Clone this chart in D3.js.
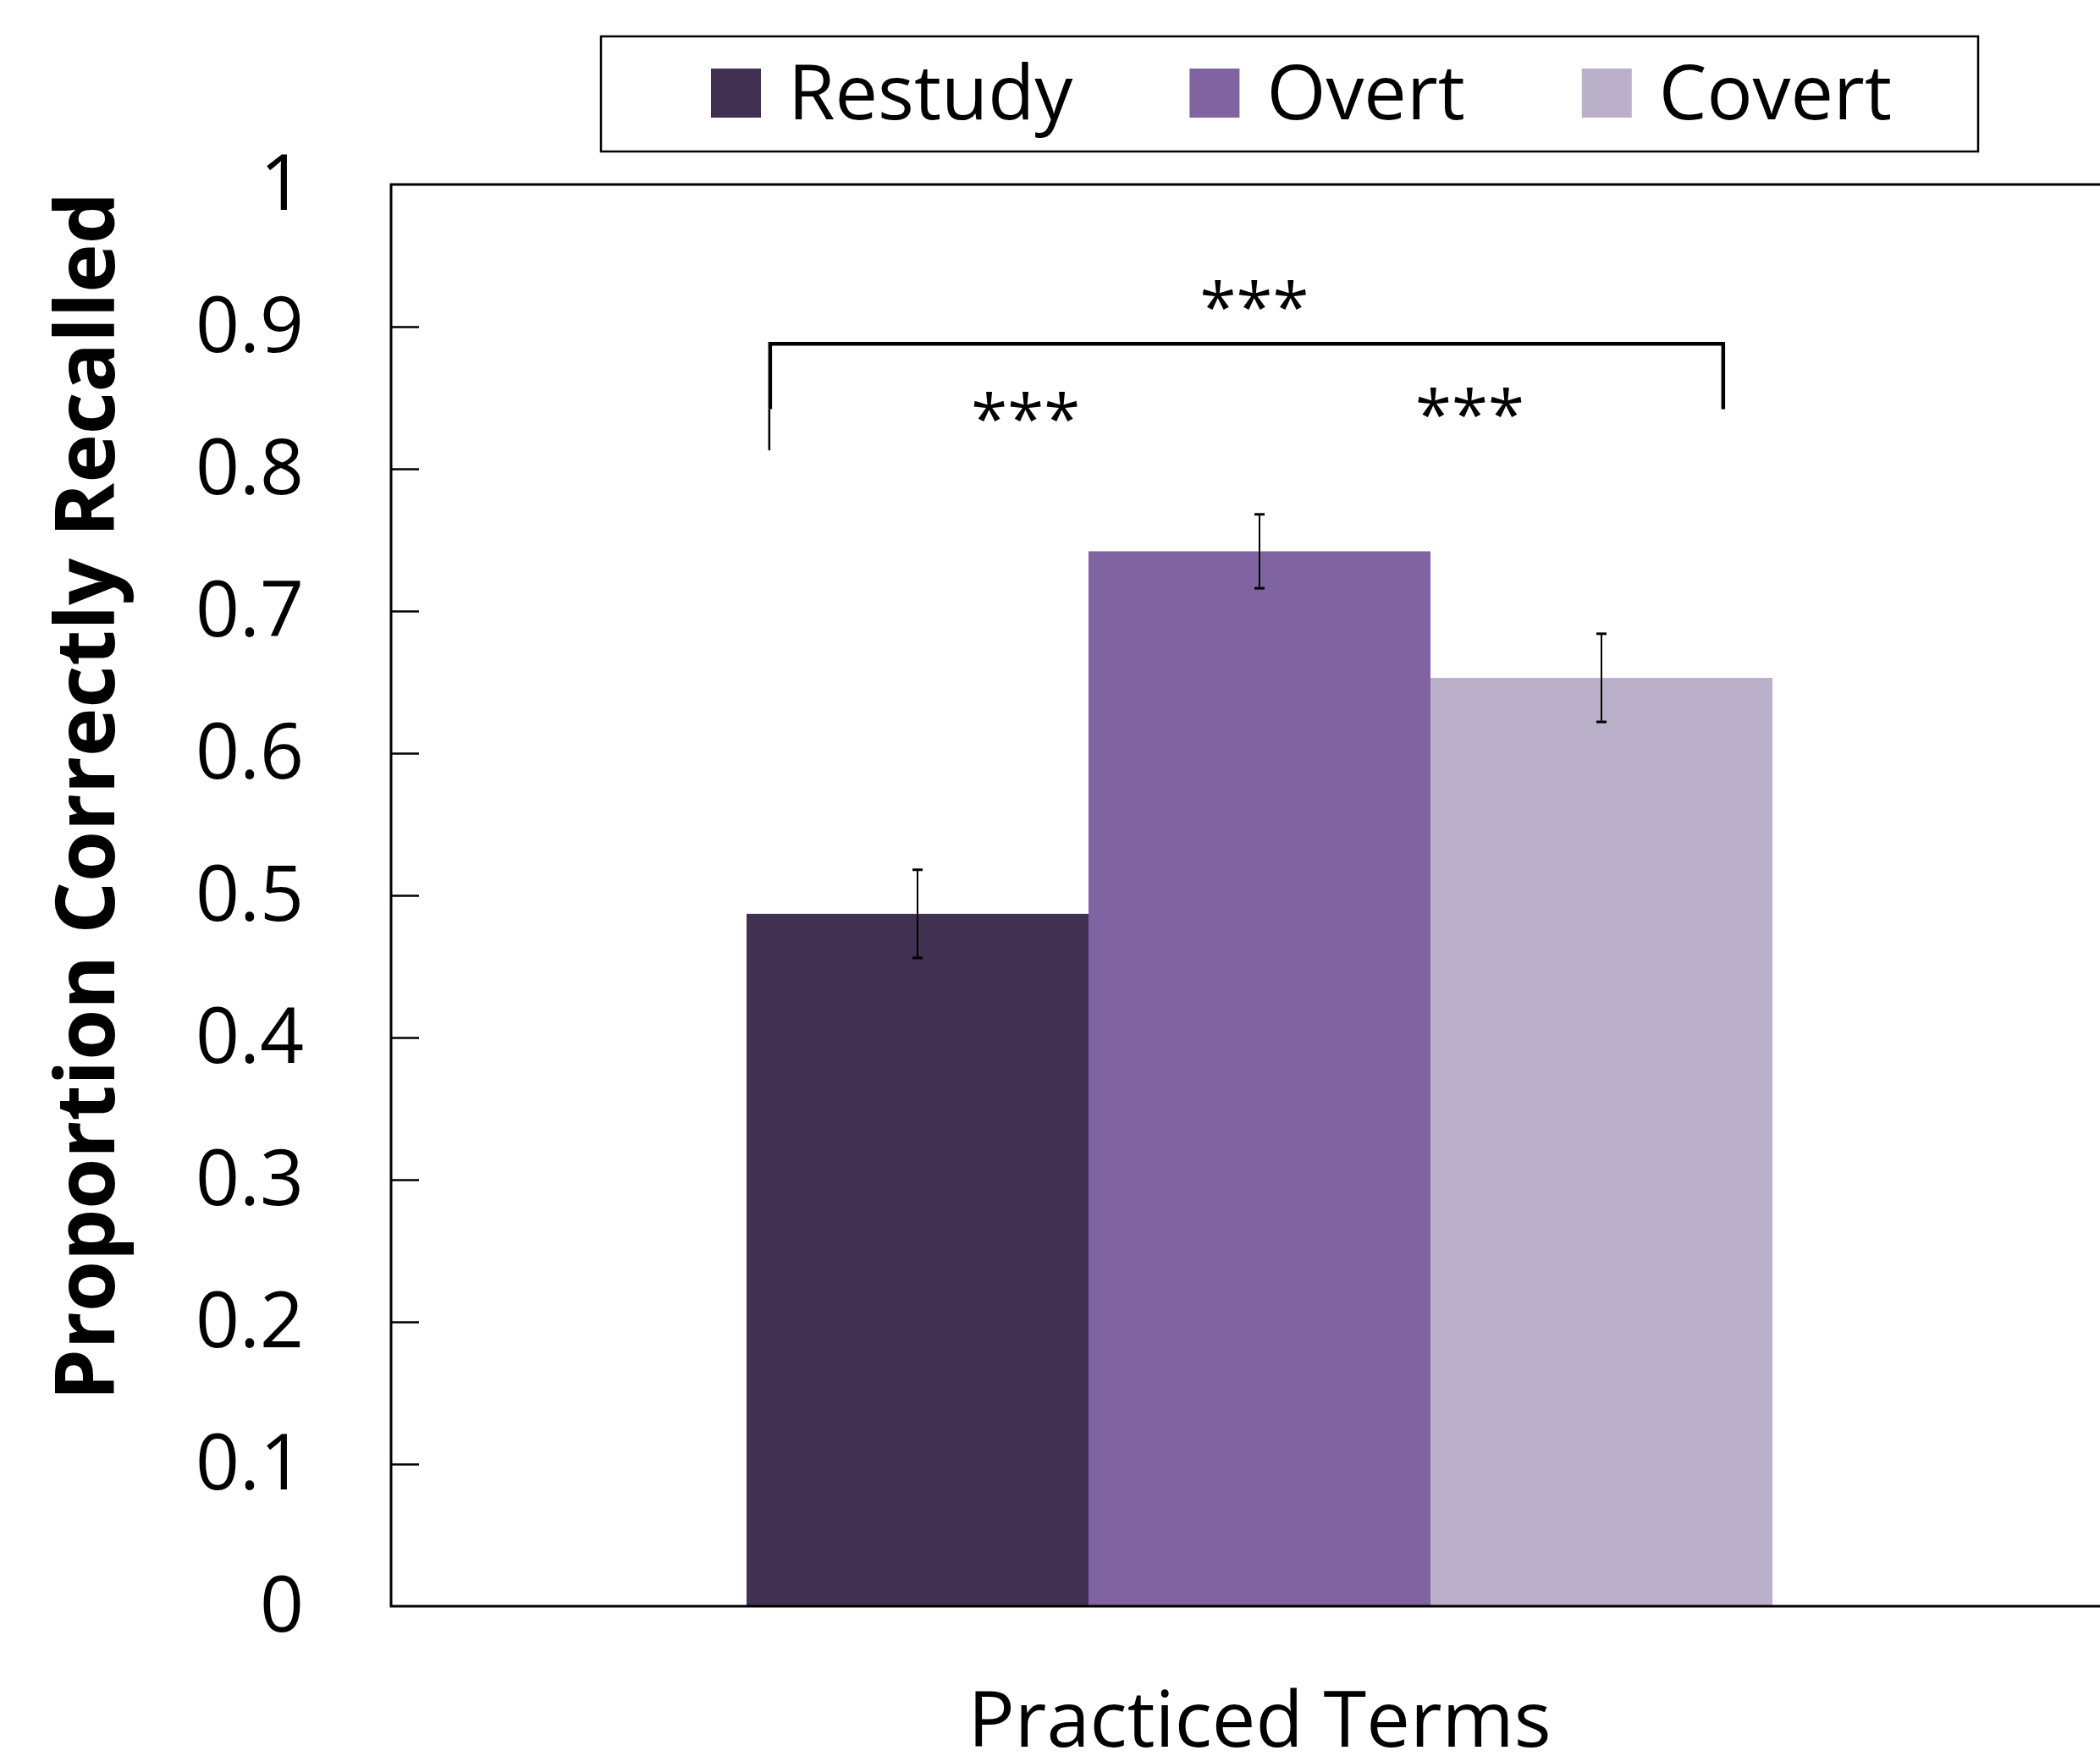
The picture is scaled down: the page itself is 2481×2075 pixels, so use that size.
<!DOCTYPE html>
<html>
<head>
<meta charset="utf-8">
<script src="https://cdn.jsdelivr.net/npm/d3@7"></script>
<style>
  body { margin: 0; background: #fff; }
  text { font-family: "Open Sans", "Noto Sans", sans-serif; fill: #000; }
</style>
</head>
<body>
<div id="chart"></div>
<script>
// data
const categories = ["Practiced Terms"];
const seriesNames = ["Restudy", "Overt", "Covert"];
const seriesValues = [0.487, 0.742, 0.653];
const seriesErrors = [0.031, 0.026, 0.031];
const seriesColors = ["#403152", "#8064A2", "#BAB0C9"];
const yTicks = [0, 0.1, 0.2, 0.3, 0.4, 0.5, 0.6, 0.7, 0.8, 0.9, 1];
const yTitle = "Proportion Correctly Recalled";
const sigLabel = "***";

const W = 2481, H = 2075;
const margin = { top: 218, right: -33, bottom: 177, left: 462 };
const width = W - margin.left - margin.right;
const height = H - margin.top - margin.bottom;

const svg = d3.select("#chart").append("svg")
  .attr("width", W)
  .attr("height", H);

const g = svg.append("g")
  .attr("transform", "translate(" + margin.left + "," + margin.top + ")");

const x0 = d3.scaleBand()
  .domain(categories)
  .range([0, width])
  .paddingInner(0)
  .paddingOuter(0.3465);

const x1 = d3.scaleBand()
  .domain(seriesNames)
  .range([0, x0.bandwidth()]);

const y = d3.scaleLinear()
  .domain([0, 1])
  .range([height, 0]);

const rows = seriesNames.map((name, i) => ({
  key: name, value: seriesValues[i], err: seriesErrors[i], color: seriesColors[i]
}));

// bars
const grp = g.append("g")
  .selectAll("g")
  .data(categories)
  .enter().append("g")
  .attr("transform", d => "translate(" + x0(d) + ",0)");

grp.selectAll("rect")
  .data(rows)
  .enter().append("rect")
  .attr("x", d => x1(d.key))
  .attr("y", d => y(d.value))
  .attr("width", x1.bandwidth())
  .attr("height", d => height - y(d.value))
  .attr("fill", d => d.color);

// error bars
const eb = grp.selectAll(".err")
  .data(rows)
  .enter().append("g")
  .attr("class", "err")
  .attr("transform", d => "translate(" + (x1(d.key) + x1.bandwidth() / 2) + ",0)");
eb.append("line")
  .attr("y1", d => y(d.value + d.err))
  .attr("y2", d => y(d.value - d.err))
  .attr("stroke", "#000").attr("stroke-width", 2);
eb.selectAll(".cap")
  .data(d => [d.value + d.err, d.value - d.err])
  .enter().append("line")
  .attr("x1", -6).attr("x2", 6)
  .attr("y1", d => y(d)).attr("y2", d => y(d))
  .attr("stroke", "#000").attr("stroke-width", 3);

// y axis labels (left) and inner ticks (right of the axis line)
const yLabels = g.append("g")
  .call(d3.axisLeft(y).tickValues(yTicks).tickFormat(d3.format("")).tickSize(0).tickPadding(103));
yLabels.select(".domain").remove();
yLabels.selectAll("text")
  .style("font-family", "'Open Sans', sans-serif")
  .style("font-size", "91px");

const yInner = g.append("g")
  .call(d3.axisRight(y).tickValues(yTicks.slice(1, -1)).tickFormat("").tickSizeInner(33).tickSizeOuter(0));
yInner.select(".domain").remove();
yInner.selectAll("line").attr("stroke", "#000").attr("stroke-width", 2.5);

// x axis category label
const xAxis = g.append("g")
  .attr("transform", "translate(0," + height + ")")
  .call(d3.axisBottom(x0).tickSize(0).tickPadding(101));
xAxis.select(".domain").remove();
xAxis.selectAll("text")
  .style("font-family", "'Open Sans', sans-serif")
  .style("font-size", "92px");

// plot frame (right edge sits just off the page)
g.append("rect")
  .attr("x", 0).attr("y", 0)
  .attr("width", width).attr("height", height)
  .attr("fill", "none")
  .attr("stroke", "#000")
  .attr("stroke-width", 3);

// y title
svg.append("text")
  .attr("transform", "translate(135,941) rotate(-90)")
  .attr("text-anchor", "middle")
  .style("font-size", "97px")
  .style("font-weight", "bold")
  .text(yTitle);

// significance bracket
const gx = x0(categories[0]);
const bw = x0.bandwidth();
const bx = f => gx + f * bw;
g.append("path")
  .attr("d", "M" + bx(0.023) + "," + y(0.842) + "V" + y(0.888) + "H" + bx(0.952) + "V" + y(0.842))
  .attr("fill", "none")
  .attr("stroke", "#000")
  .attr("stroke-width", 4.5);
g.append("line")
  .attr("x1", bx(0.023) - 1).attr("x2", bx(0.023) - 1)
  .attr("y1", y(0.842)).attr("y2", y(0.813))
  .attr("stroke", "#000").attr("stroke-width", 2.5);

const stars = [[0.495, 0.921], [0.272, 0.842], [0.705, 0.845]];
g.selectAll(".sig")
  .data(stars)
  .enter().append("text")
  .attr("class", "sig")
  .attr("x", d => bx(d[0]))
  .attr("y", d => y(d[1]) + 40)
  .attr("text-anchor", "middle")
  .style("font-size", "78px")
  .text(sigLabel);

// legend
const legend = svg.append("g");
legend.append("rect")
  .attr("x", 710).attr("y", 43)
  .attr("width", 1627).attr("height", 136)
  .attr("fill", "none")
  .attr("stroke", "#000")
  .attr("stroke-width", 2.5);

let lx = 840;
rows.forEach(d => {
  legend.append("rect")
    .attr("x", lx).attr("y", 81)
    .attr("width", 59).attr("height", 58)
    .attr("fill", d.color);
  const t = legend.append("text")
    .attr("x", lx + 91).attr("y", 141)
    .style("font-size", "90px")
    .text(d.key);
  lx += 91 + t.node().getComputedTextLength() + 138;
});
</script>
</body>
</html>
